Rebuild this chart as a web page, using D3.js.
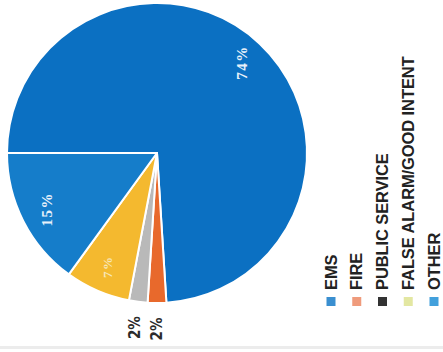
<!DOCTYPE html>
<html>
<head>
<meta charset="utf-8">
<script src="https://cdn.jsdelivr.net/npm/d3@7"></script>
<style>
  html, body { margin: 0; padding: 0; background: #fff; }
  svg { display: block; }
</style>
</head>
<body>
<script>
// Incident categories and their share of calls (percent)
const categories = ["EMS", "FIRE", "PUBLIC SERVICE", "FALSE ALARM/GOOD INTENT", "OTHER"];
const shares = [74, 2, 2, 7, 15];
const sliceColors = ["#0b70c2", "#e8692c", "#b9b9b9", "#f4b92f", "#157dca"];
const legendColors = ["#3a8fd0", "#ef9b7c", "#333333", "#e3e7a2", "#42a0dc"];
const labelText = ["74%", "2%", "2%", "7%", "15%"];

const W = 443, H = 352;
const svg = d3.select("body").append("svg").attr("width", W).attr("height", H);

// faint rule along the bottom edge
svg.append("rect").attr("x", 0).attr("y", 346).attr("width", W).attr("height", 3).attr("fill", "#ececec");

// The whole figure is laid out sideways: local x runs up the page, local y runs right.
const g = svg.append("g").attr("transform", `translate(0,${H}) rotate(-90)`);

const cx = 199, cy = 157, R = 150;

const pie = d3.pie().sort(null).value(d => d);
const arcs = pie(shares);
const arc = d3.arc().innerRadius(0).outerRadius(R);
const inLabel = d3.arc().innerRadius(124).outerRadius(124);
const outLabel = d3.arc().innerRadius(176).outerRadius(176);

const pg = g.append("g").attr("transform", `translate(${cx},${cy})`);

pg.selectAll("path.slice").data(arcs).join("path")
  .attr("class", "slice")
  .attr("d", arc)
  .attr("fill", (d, i) => sliceColors[i])
  .attr("stroke", "#ffffff")
  .attr("stroke-width", 2)
  .attr("stroke-linejoin", "round");

pg.selectAll("text.pct").data(arcs).join("text")
  .attr("class", "pct")
  .attr("transform", (d, i) => {
    const c = (shares[i] < 5 ? outLabel : inLabel).centroid(d);
    return `translate(${c[0]},${c[1]})`;
  })
  .attr("text-anchor", "middle")
  .attr("dy", "0.36em")
  .attr("font-family", (d, i) => shares[i] < 5 ? "DejaVu Sans Condensed, DejaVu Sans, sans-serif" : "Liberation Serif, serif")
  .attr("font-weight", "bold")
  .attr("font-size", (d, i) => shares[i] < 5 ? 15 : (shares[i] < 10 ? 13 : 15))
  .attr("letter-spacing", (d, i) => shares[i] < 5 ? 0 : 1.5)
  .attr("fill", (d, i) => shares[i] < 5 ? "#2b2b2b" : (shares[i] < 10 ? "#f7e6b8" : "#e8f1fa"))
  .text((d, i) => labelText[i]);

// legend
const legendY = d3.scalePoint().domain(categories).range([331, 434]);
const lg = g.append("g");
const item = lg.selectAll("g.item").data(categories).join("g")
  .attr("class", "item")
  .attr("transform", d => `translate(0,${legendY(d)})`);

item.append("rect")
  .attr("x", 46).attr("y", -4.5)
  .attr("width", 9).attr("height", 9)
  .attr("fill", (d, i) => legendColors[i]);

item.append("text")
  .attr("x", 62).attr("y", 5.5)
  .attr("font-family", "Liberation Sans Narrow, Liberation Sans, sans-serif")
  .attr("font-weight", "bold")
  .attr("font-size", 16.5)
  .attr("letter-spacing", -0.1)
  .attr("fill", "#222")
  .text(d => d);
</script>
</body>
</html>
